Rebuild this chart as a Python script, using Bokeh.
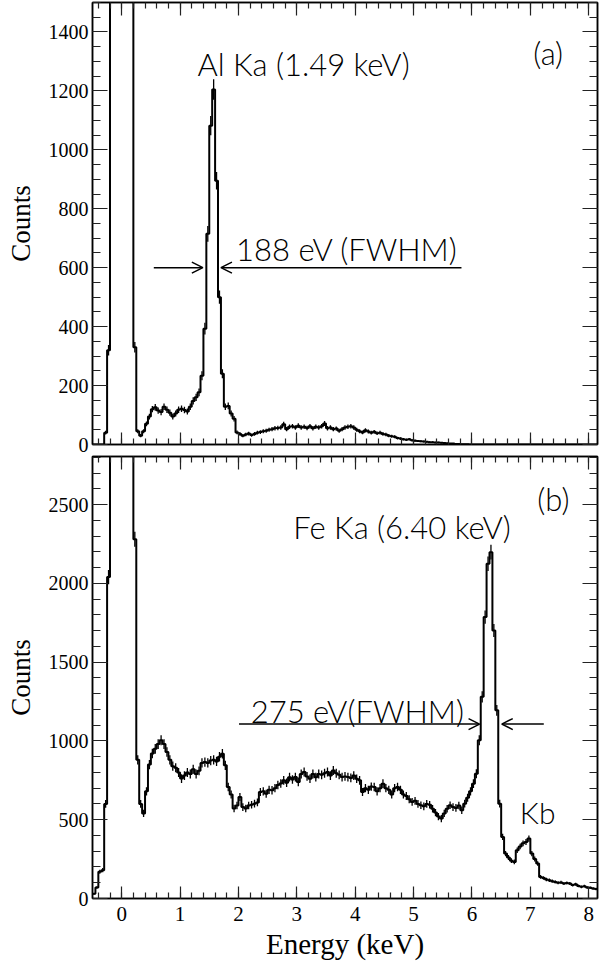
import numpy as np
from bokeh.plotting import figure
from bokeh.models import (Label, Arrow, OpenHead, LinearAxis, SingleIntervalTicker,
                          Range1d, CustomJSTickFormatter)
from bokeh.layouts import column
from bokeh.embed import file_html
from bokeh.resources import INLINE

# ---------------- data ----------------
bin_start = -0.5   # keV, left edge of first bin
bin_width = 0.05   # keV

counts_a = [
    0, 0, 0, 0, 40, 320, 5000, 5000, 5000, 5000, 5000, 5000, 5000, 5000,
    330, 45, 30, 45, 70, 95, 120, 126, 115, 110, 128, 118, 108, 95, 105, 118,
    121, 117, 112, 128, 148, 160, 177, 233, 393, 715, 1082, 1205, 895, 500, 240, 128,
    131, 105, 87, 41, 36, 30, 34, 37, 32, 36, 40, 42, 45, 47,
    50, 52, 55, 56, 58, 69, 52, 60, 62, 58, 64, 58, 60, 56, 62, 55, 60, 58, 62, 71,
    55, 58, 52, 54, 47, 52, 58, 60, 62, 58, 50, 45, 41, 48, 44, 40, 43, 38, 40, 36,
    34, 30, 28, 26, 22, 20, 18, 16, 18, 14, 13, 12, 11, 10, 9, 8, 8, 7, 7, 6,
    5, 4, 3, 3, 2, 2, 1, 1, 1,
    0, 0, 0, 0, 0, 0, 0, 0, 0, 0, 0, 0, 0, 0, 0, 0, 0, 0, 0, 0, 0, 0,
    0, 0, 0, 0, 0, 0, 0, 0, 0, 0, 0, 0, 0, 0, 0, 0, 0, 0, 0, 0, 0, 0,
]

counts_b = [
    30, 70, 170, 180, 600, 2040, 5000, 5000, 5000, 5000, 5000, 5000, 5000, 5000,
    2280, 880, 600, 540, 680, 850, 920, 950, 980, 1004, 980, 930, 880, 840, 830, 800,
    761, 780, 800, 790, 820, 790, 810, 860, 866, 860, 875, 880, 870, 900, 919, 845,
    708, 660, 571, 590, 644, 580, 571, 590, 595, 602, 610, 676, 680, 665,
    690, 687, 700, 720, 730, 750, 735, 770, 755, 771, 740, 790, 803, 775, 760, 790,
    770, 790, 785, 795, 803, 780, 813, 795, 785, 771, 775, 771, 765, 780, 760, 750,
    676, 700, 690, 710, 708, 680, 700, 729, 700, 690, 660, 700, 708, 690, 660, 650,
    630, 613, 620, 600, 592, 585, 600, 595, 570, 545, 520, 507, 540, 570, 592, 580,
    575, 590, 560, 602, 640, 680, 729, 792, 1004, 1280, 1786, 2124, 2198, 1701, 1194, 602,
    391, 285, 260, 240, 232, 306, 330, 350, 359, 380, 285, 250, 222, 137, 130, 120,
    116, 110, 105, 100, 102, 95, 98, 95, 85, 90, 80, 74, 78, 70, 68, 63, 60,
]

x_ticks_major = 1.0
ya_major, yb_major = 200, 500

assert len(counts_a) == len(counts_b)

FONT_TICK = "Liberation Serif"
FONT_ANN = "Lato Light"


def step_xy(vals):
    n = len(vals)
    edges = bin_start + bin_width * np.arange(n + 1)
    xs = np.repeat(edges, 2)[1:-1]
    ys = np.repeat(np.asarray(vals, dtype=float), 2)
    centers = edges[:-1] + bin_width / 2
    return xs, ys, centers


def style_axis(ax, interval, nminor, tick_in, minor_in, labels, size="20px"):
    ax.ticker = SingleIntervalTicker(interval=interval, num_minor_ticks=nminor)
    ax.major_tick_in = tick_in
    ax.major_tick_out = 0
    ax.minor_tick_in = minor_in
    ax.minor_tick_out = 0
    ax.axis_line_color = "black"
    ax.axis_line_width = 1.5
    ax.major_tick_line_color = "#222222"
    ax.minor_tick_line_color = "#222222"
    ax.major_tick_line_width = 1.2
    ax.minor_tick_line_width = 1.2
    if labels:
        ax.major_label_text_font = FONT_TICK
        ax.major_label_text_font_style = "normal"
        ax.major_label_text_font_size = size
        ax.major_label_text_color = "black"
    else:
        ax.formatter = CustomJSTickFormatter(code="return ''")
        ax.major_label_standoff = 0


def make_panel(vals, ymax, ymajor, yminor_n, frame_h, border_top, border_bottom, bottom_labels):
    p = figure(frame_width=505, frame_height=frame_h,
               x_range=Range1d(-0.5, 8.15), y_range=Range1d(0, ymax),
               output_backend="svg", toolbar_location=None,
               x_axis_location=None, y_axis_location=None,
               min_border_left=92, min_border_right=5,
               min_border_top=border_top, min_border_bottom=border_bottom)
    p.xgrid.visible = False
    p.ygrid.visible = False
    p.outline_line_color = "black"
    p.outline_line_width = 1.5
    p.background_fill_color = "white"
    p.border_fill_color = "white"

    left = LinearAxis()
    style_axis(left, ymajor, yminor_n, 15, 8, True)
    left.major_label_standoff = 4
    left.axis_label = "Counts"
    left.axis_label_text_font = FONT_TICK
    left.axis_label_text_font_style = "normal"
    left.axis_label_text_font_size = "27px"
    left.axis_label_text_color = "black"
    left.axis_label_standoff = 10
    p.add_layout(left, "left")

    right = LinearAxis()
    style_axis(right, ymajor, yminor_n, 15, 8, False)
    p.add_layout(right, "right")

    top = LinearAxis()
    style_axis(top, x_ticks_major, 5, 13, 6, False)
    p.add_layout(top, "above")

    bottom = LinearAxis()
    if bottom_labels:
        style_axis(bottom, x_ticks_major, 5, 12, 6, True, size="21px")
        bottom.major_label_standoff = 8
        bottom.axis_label = "Energy (keV)"
        bottom.axis_label_text_font = FONT_TICK
        bottom.axis_label_text_font_style = "normal"
        bottom.axis_label_text_font_size = "29px"
        bottom.axis_label_text_color = "black"
        bottom.axis_label_standoff = 4
    else:
        style_axis(bottom, x_ticks_major, 5, 12, 6, False)
    p.add_layout(bottom, "below")

    xs, ys, centers = step_xy(vals)
    v = np.asarray(vals, dtype=float)
    err = np.sqrt(v)
    keep = (v > 0) & (v < ymax)
    p.segment(x0=centers[keep], y0=(v - err)[keep], x1=centers[keep], y1=(v + err)[keep],
              line_color="black", line_width=1.3)
    p.line(xs, ys, line_color="black", line_width=2)
    return p


def add_label(p, x, y, text, size="31px"):
    p.add_layout(Label(x=x, y=y, text=text, text_font=FONT_ANN, text_font_size=size,
                       text_color="black", text_baseline="alphabetic", text_align="left"))


def add_arrow(p, x0, x1, y):
    p.add_layout(Arrow(end=OpenHead(size=11, line_width=1.5, line_color="black"),
                       x_start=x0, y_start=y, x_end=x1, y_end=y,
                       line_width=1.5, line_color="black"))


p1 = make_panel(counts_a, 1500, ya_major, 4, 442, 2, 11, False)
p2 = make_panel(counts_b, 2805, yb_major, 5, 442, 1, 62, True)

add_label(p1, 1.30, 1290, "Al Ka (1.49 keV)")
add_label(p1, 7.05, 1330, "(a)")
add_label(p1, 1.96, 665, "188 eV (FWHM)")
add_arrow(p1, 0.55, 1.39, 600)
add_arrow(p1, 5.82, 1.70, 600)

add_label(p2, 7.12, 2538, "(b)")
add_label(p2, 2.94, 2355, "Fe Ka (6.40 keV)")
add_label(p2, 2.21, 1190, "275 eV(FWHM)")
add_label(p2, 6.82, 549, "Kb", size="30px")
add_arrow(p2, 2.01, 6.13, 1107)
add_arrow(p2, 7.23, 6.51, 1107)

layout = column(p1, p2)
open("out.html", "w").write(file_html(layout, INLINE))
